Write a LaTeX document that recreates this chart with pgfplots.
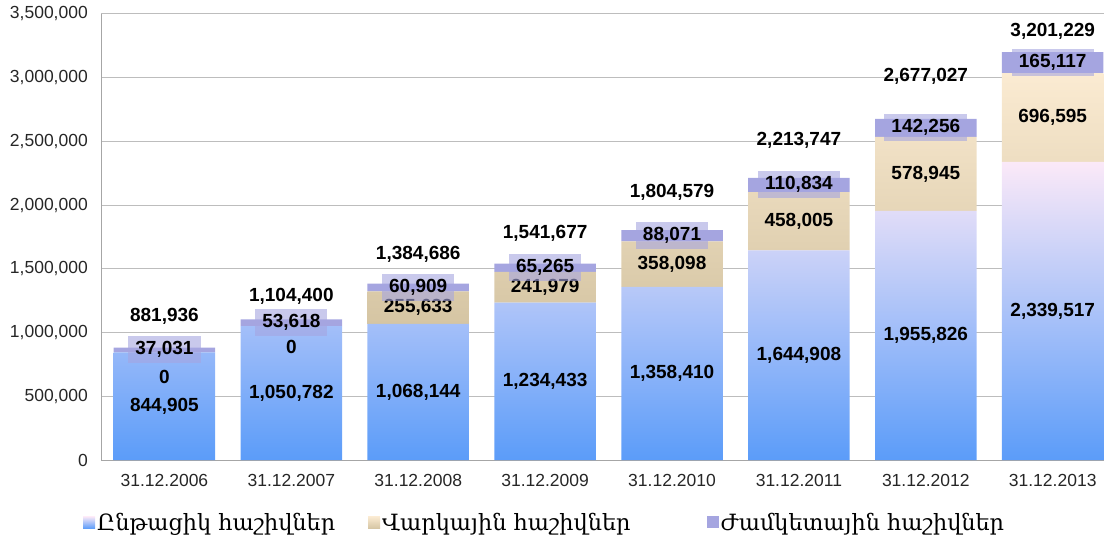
\documentclass[border=0pt]{standalone}
\usepackage{fontspec}
\setmainfont{Liberation Sans}
\newfontfamily\armfont{DejaVu Serif}
\usepackage{pgfplots}
\pgfplotsset{compat=1.18}

\definecolor{s1top}{HTML}{FBE9F8}
\definecolor{s1mid}{HTML}{B4CBF4}
\definecolor{s1bot}{HTML}{5B9CF9}
\definecolor{s2top}{HTML}{FBEBD2}
\definecolor{s2mid}{HTML}{F7F0E2}
\definecolor{s2bot}{HTML}{D5C5A3}
\definecolor{s3}{HTML}{A5A5E0}
\definecolor{axgray}{HTML}{A6A6A6}
\definecolor{gridgray}{HTML}{BDBDBD}

\pgfplotsset{
  common/.style={
    at={(101pt,84pt)}, anchor=south west,
    scale only axis, width=1003pt, height=446pt,
    xmin=-0.5, xmax=7.404, ymin=0, ymax=3500000,
  },
  lbl/.style={draw=none, mark=none, point meta=explicit symbolic, nodes near coords,
    nodes near coords style={anchor=center, font=\bfseries\fontsize{19}{21}\selectfont, text=black}},
}

\begin{document}
\begin{tikzpicture}
\useasboundingbox (0,0) rectangle (1105pt,544pt);

\begin{axis}[
    common,
    ybar stacked, bar width=0.8,
    xtick={0,...,7},
    xticklabels={31.12.2006,31.12.2007,31.12.2008,31.12.2009,31.12.2010,31.12.2011,31.12.2012,31.12.2013},
    ytick={0,500000,...,3500000},
    scaled y ticks=false,
    /pgf/number format/fixed,
    /pgf/number format/1000 sep={,},
    /pgf/number format/assume math mode=true,
    ymajorgrids, grid style={draw=gridgray, line width=1pt},
    axis x line*=bottom, axis y line*=left,
    axis line style={-, draw=axgray, line width=1pt},
    major tick length=0pt,
    yticklabel style={font=\fontsize{17.5}{20}\selectfont, text=black!85, inner sep=0pt, anchor=east, xshift=-13pt},
    xticklabel style={font=\fontsize{17.5}{20}\selectfont, text=black!85, inner sep=0pt, anchor=north, yshift=-14.5pt},
    legend style={at={(-0.018,-0.14)}, anchor=west, draw=none, fill=none,
      font=\armfont\fontsize{22.4}{26}\selectfont, inner sep=0pt,
      /tikz/every even column/.append style={column sep=31pt}},
    legend columns=3, legend cell align=left,
    legend image code/.code={\path[#1, draw=none] (0pt,-6pt) rectangle (12pt,6pt);},
]
\addplot[draw=none, top color=s1top, middle color=s1mid, bottom color=s1bot] coordinates {
  (0,844905) (1,1050782) (2,1068144) (3,1234433) (4,1358410) (5,1644908) (6,1955826) (7,2339517)};
\addlegendentry{Ընթացիկ հաշիվներ}
\addplot[draw=none, top color=s2top, middle color=s2mid, bottom color=s2bot] coordinates {
  (0,0) (1,0) (2,255633) (3,241979) (4,358098) (5,458005) (6,578945) (7,696595)};
\addlegendentry{Վարկային հաշիվներ\rule{43pt}{0pt}}
\addplot[draw=none, fill=s3] coordinates {
  (0,37031) (1,53618) (2,60909) (3,65265) (4,88071) (5,110834) (6,142256) (7,165117)};
\addlegendentry{Ժամկետային հաշիվներ}
\end{axis}

\begin{axis}[common, hide axis, clip=false]
% first series, centred in its segment
\addplot[lbl] coordinates {
  (0,422452) [844,905] (1,525391) [1,050,782] (2,534072) [1,068,144] (3,617217) [1,234,433]
  (4,679205) [1,358,410] (5,822454) [1,644,908] (6,977913) [1,955,826] (7,1169759) [2,339,517]};
% second series
\addplot[lbl] coordinates {
  (0,649000) [0] (1,889140) [0] (2,1195960) [255,633] (3,1355422) [241,979]
  (4,1537459) [358,098] (5,1873910) [458,005] (6,2245298) [578,945] (7,2687814) [696,595]};
% third series, with its lavender label box
\addplot[lbl, nodes near coords style={fill=s3, fill opacity=0.6, text opacity=1,
    inner xsep=7pt, inner ysep=5pt, text height=13.5pt, text depth=3.5pt}] coordinates {
  (0,863420) [37,031] (1,1077591) [53,618] (2,1354231) [60,909] (3,1509044) [65,265]
  (4,1760543) [88,071] (5,2158330) [110,834] (6,2605899) [142,256] (7,3118670) [165,117]};
% totals
\addplot[lbl] coordinates {
  (0,1124560) [881,936] (1,1287000) [1,104,400] (2,1614250) [1,384,686] (3,1779050) [1,541,677]
  (4,2100800) [1,804,579] (5,2505740) [2,213,747] (6,3013480) [2,677,027] (7,3361130) [3,201,229]};
\end{axis}
\end{tikzpicture}
\end{document}
